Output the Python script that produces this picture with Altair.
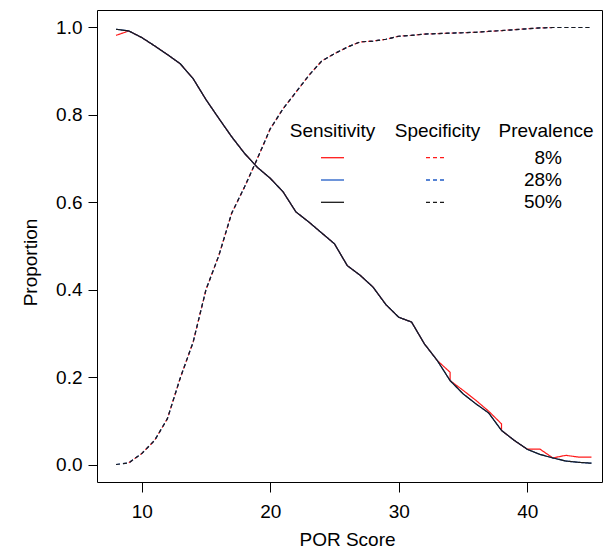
import altair as alt
import pandas as pd

# ---- data ----
score = list(range(8, 46))

sens_50 = [0.996, 0.992, 0.977, 0.958, 0.938, 0.917, 0.883, 0.835, 0.792, 0.750,
           0.712, 0.680, 0.655, 0.624, 0.578, 0.555, 0.530, 0.505, 0.455, 0.433,
           0.406, 0.366, 0.337, 0.326, 0.276, 0.238, 0.192, 0.162, 0.139, 0.118,
           0.078, 0.055, 0.035, 0.023, 0.015, 0.008, 0.005, 0.003]
sens_28 = list(sens_50)

score_8 = [8, 9, 10, 11, 12, 13, 14, 15, 16, 17, 18, 19, 20, 21, 22, 23, 24, 25,
           26, 27, 28, 29, 30, 31, 32, 33, 34, 34, 35, 36, 37, 38, 38, 39, 40, 41,
           42, 43, 44, 45]
sens_8 = [0.982, 0.992, 0.977, 0.958, 0.938, 0.917, 0.883, 0.835, 0.792, 0.750,
          0.712, 0.680, 0.655, 0.624, 0.578, 0.555, 0.530, 0.505, 0.455, 0.433,
          0.406, 0.366, 0.337, 0.326, 0.276, 0.238, 0.211, 0.192, 0.170, 0.147,
          0.122, 0.093, 0.078, 0.055, 0.035, 0.035, 0.015, 0.021, 0.017, 0.017]

spec_50 = [0.000, 0.004, 0.025, 0.055, 0.105, 0.198, 0.280, 0.400, 0.478, 0.575,
           0.635, 0.700, 0.768, 0.814, 0.852, 0.890, 0.923, 0.940, 0.955, 0.967,
           0.969, 0.973, 0.980, 0.982, 0.985, 0.986, 0.987, 0.988, 0.989, 0.991,
           0.993, 0.995, 0.997, 0.999, 1.000, 1.000, 1.000, 1.000]
spec_28 = list(spec_50)
score_spec_8 = list(range(9, 43))
spec_8 = spec_50[1:35]

prevalences = ["8%", "28%", "50%"]
colors = ["#FF1A1A", "#1F5BC6", "#1A1A1A"]
headers = ["Sensitivity", "Specificity", "Prevalence"]

FONT = "Arial"
FS = 19


def series(xs, ys, measure):
    return pd.DataFrame({"score": xs, "value": ys, "measure": measure,
                         "idx": list(range(len(xs)))})


sets = {
    "8%": (series(score_8, sens_8, "Sensitivity"), series(score_spec_8, spec_8, "Specificity")),
    "28%": (series(score, sens_28, "Sensitivity"), series(score, spec_28, "Specificity")),
    "50%": (series(score, sens_50, "Sensitivity"), series(score, spec_50, "Specificity")),
}

xscale = alt.Scale(domain=[6.52, 45.82], nice=False, zero=False)
yscale = alt.Scale(domain=[-0.04, 1.04], nice=False, zero=False)

xaxis = alt.Axis(values=[10, 20, 30, 40], title="POR Score", grid=False, domain=False,
                 ticks=True, tickColor="black", tickSize=10, tickWidth=1,
                 labelFontSize=FS, labelFont=FONT,
                 labelColor="black", labelPadding=10, titleFontSize=FS, titleFont=FONT,
                 titleFontWeight="normal", titleColor="black", titleX=250, titleY=57,
                 titleBaseline="middle", titleAlign="center")
yaxis = alt.Axis(values=[0, 0.2, 0.4, 0.6, 0.8, 1.0], format=".1f", title="Proportion",
                 grid=False, domain=False, ticks=True, tickColor="black", tickSize=9,
                 tickWidth=1, labelFontSize=FS, labelFont=FONT, labelColor="black",
                 labelPadding=6, titleFontSize=FS, titleFont=FONT, titleFontWeight="normal",
                 titleColor="black", titleAngle=270, titleX=-67, titleY=252,
                 titleBaseline="middle", titleAlign="center")

layers = []
for prev, col in zip(prevalences, colors):
    sens_df, spec_df = sets[prev]
    for df, dash in ((sens_df, [1, 0]), (spec_df, [4, 3])):
        layers.append(alt.Chart(df).mark_line(color=col, strokeWidth=1.2,
                                              strokeDash=dash).encode(
            x=alt.X("score:Q", scale=xscale, axis=xaxis),
            y=alt.Y("value:Q", scale=yscale, axis=yaxis),
            order="idx:Q",
        ))

# ---- custom legend table ----
dummy = pd.DataFrame({"a": [0]})
header_x = [235.5, 340.5, 449]
for h, hx in zip(headers, header_x):
    layers.append(alt.Chart(dummy).mark_text(text=h, font=FONT, fontSize=FS, color="black",
                                             align="center", baseline="alphabetic")
                  .encode(x=alt.value(hx), y=alt.value(127)))

row_y = [147.7, 170.0, 192.3]
for prev, col, ry in zip(prevalences, colors, row_y):
    layers.append(alt.Chart(dummy).mark_rule(color=col, strokeWidth=1.3)
                  .encode(x=alt.value(224), x2=alt.value(247), y=alt.value(ry)))
    layers.append(alt.Chart(dummy).mark_rule(color=col, strokeWidth=1.3, strokeDash=[4, 3])
                  .encode(x=alt.value(329), x2=alt.value(349), y=alt.value(ry)))
    layers.append(alt.Chart(dummy).mark_text(text=prev, font=FONT, fontSize=FS, color="black",
                                             align="right", baseline="middle")
                  .encode(x=alt.value(465), y=alt.value(ry)))

chart = alt.layer(*layers).properties(
    width=505, height=472,
    autosize=alt.AutoSizeParams(type="none"),
    padding={"left": 89, "top": 2, "right": 1, "bottom": 66},
).configure(background="white").configure_view(stroke="black", strokeWidth=1)

chart.save("out.html", embed_options={"renderer": "svg", "actions": False})
